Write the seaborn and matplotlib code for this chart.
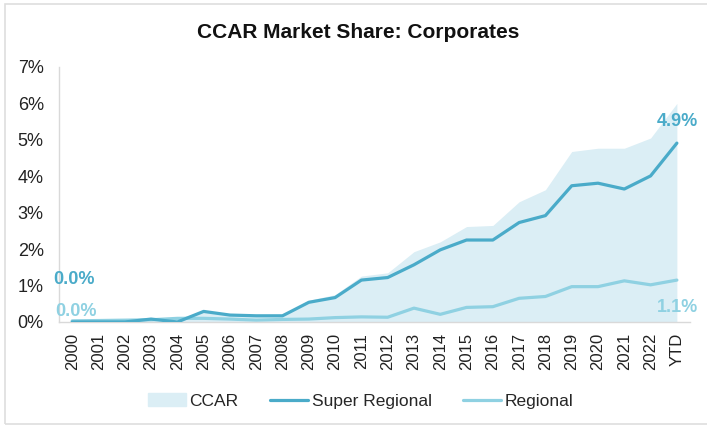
import matplotlib
matplotlib.use("Agg")
import matplotlib.pyplot as plt
import matplotlib.patches as mpatches
from matplotlib.lines import Line2D
import seaborn as sns
import pandas as pd
import numpy as np

years = [str(y) for y in range(2000, 2023)] + ["YTD"]
ccar = [0.08, 0.08, 0.08, 0.09, 0.10, 0.30, 0.21, 0.18, 0.19, 0.60, 0.75,
        1.26, 1.35, 1.93, 2.20, 2.62, 2.65, 3.30, 3.63, 4.68, 4.77, 4.77, 5.05, 6.00]
super_regional = [0.00, 0.00, 0.00, 0.08, 0.00, 0.29, 0.19, 0.17, 0.17, 0.54, 0.67,
                  1.15, 1.22, 1.57, 1.98, 2.25, 2.25, 2.73, 2.92, 3.74, 3.81, 3.65, 4.01, 4.91]
regional = [0.03, 0.04, 0.05, 0.06, 0.10, 0.10, 0.08, 0.05, 0.07, 0.08, 0.12,
            0.14, 0.13, 0.38, 0.21, 0.40, 0.42, 0.65, 0.70, 0.97, 0.97, 1.13, 1.02, 1.15]

df = pd.DataFrame({"idx": np.arange(len(years)), "year": years,
                   "CCAR": np.array(ccar) / 100,
                   "Super Regional": np.array(super_regional) / 100,
                   "Regional": np.array(regional) / 100})

C_FILL = "#dbeef5"
C_SUP = "#4aabc9"
C_REG = "#8fd1e2"

sns.set_theme(style="white")
plt.rcParams["font.family"] = ["Liberation Sans", "DejaVu Sans"]

fig = plt.figure(figsize=(7.07, 4.28), dpi=100)
ax = fig.add_axes([0.0835, 0.2477, 0.8925, 0.5958])

ax.fill_between(df["idx"], 0, df["CCAR"], color=C_FILL, linewidth=0, zorder=1)
sns.lineplot(data=df, x="idx", y="Super Regional", color=C_SUP, linewidth=2.3, ax=ax, zorder=3)
sns.lineplot(data=df, x="idx", y="Regional", color=C_REG, linewidth=2.3, ax=ax, zorder=2)

ax.set_xlim(-0.5, len(years) - 0.5)
ax.set_ylim(0, 0.07)
ax.set_yticks(np.arange(0, 0.071, 0.01))
ax.set_yticklabels([f"{int(round(v*100))}%" for v in np.arange(0, 0.071, 0.01)], fontsize=13, color="#222222")
ax.set_xticks(df["idx"])
ax.set_xticklabels(years, rotation=90, fontsize=12, color="#222222")
ax.set_xlabel("")
ax.set_ylabel("")
ax.tick_params(axis="y", length=0, pad=11)
ax.tick_params(axis="x", length=0, pad=8)
for s in ["top", "right"]:
    ax.spines[s].set_visible(False)
for s in ["left", "bottom"]:
    ax.spines[s].set_color("#d9d9d9")
    ax.spines[s].set_linewidth(1.0)

# value labels
ax.text(-0.72, super_regional[0] / 100 + 0.0117, f"{super_regional[0]:.1f}%", color=C_SUP,
        fontsize=13, fontweight="bold", ha="left", va="center")
ax.text(-0.65, regional[0] / 100 + 0.0027, f"{regional[0]:.1f}%", color=C_REG,
        fontsize=13, fontweight="bold", ha="left", va="center")
ax.text(len(years) - 1 + 0.8, super_regional[-1] / 100 + 0.0058, f"{super_regional[-1]:.1f}%", color=C_SUP,
        fontsize=13, fontweight="bold", ha="right", va="center")
ax.text(len(years) - 1 + 0.8, regional[-1] / 100 - 0.0075, f"{regional[-1]:.1f}%", color=C_REG,
        fontsize=13, fontweight="bold", ha="right", va="center")

fig.text(0.506, 0.925, "CCAR Market Share: Corporates", ha="center", va="center",
         fontsize=15, fontweight="bold", color="#111111")

handles = [mpatches.Patch(color=C_FILL, label="CCAR"),
           Line2D([0], [0], color=C_SUP, lw=2.3, label="Super Regional"),
           Line2D([0], [0], color=C_REG, lw=2.3, label="Regional")]
fig.legend(handles=handles, loc="center", bbox_to_anchor=(0.51, 0.063), ncol=3, frameon=False,
           fontsize=12.5, handlelength=2.2, handletextpad=0.2, columnspacing=1.8)

border = mpatches.Rectangle((5 / 707, 4 / 428), 1.2, 420 / 428, transform=fig.transFigure,
                            fill=False, edgecolor="#dedede", linewidth=1.2)
fig.patches.append(border)

fig.savefig("out.png", dpi=100)
